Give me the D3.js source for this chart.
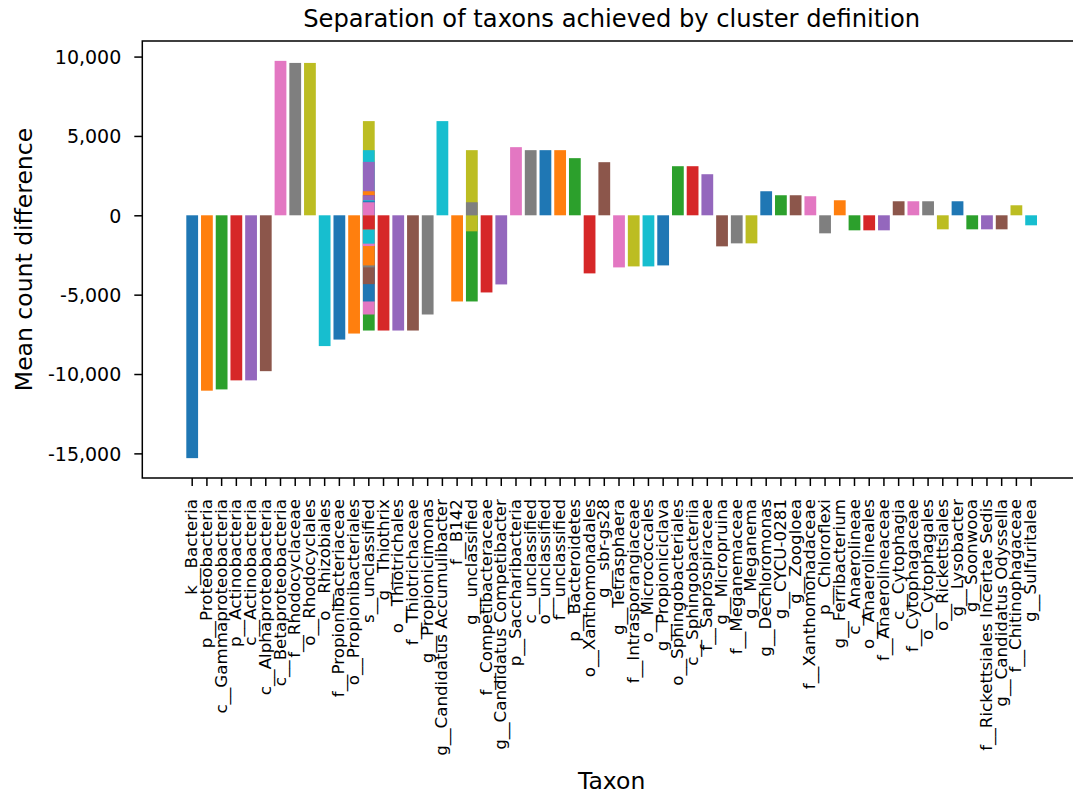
<!DOCTYPE html>
<html>
<head>
<meta charset="utf-8">
<script src="https://cdn.jsdelivr.net/npm/d3@7"></script>
<style>
	body { margin: 0; background: #fff; }
	text { font-family: "DejaVu Sans", sans-serif; fill: #000; }
</style>
</head>
<body>
<div id="chart"></div>
<script>

// Bars in the order they were drawn (later bars paint over earlier ones)
let taxa = [
	"k__Bacteria", "p__Proteobacteria", "c__Gammaproteobacteria", "p__Actinobacteria",
	"c__Actinobacteria", "c__Alphaproteobacteria", "c__Betaproteobacteria", "f__Rhodocyclaceae",
	"o__Rhodocyclales", "o__Rhizobiales", "f__Propionibacteriaceae", "o__Propionibacteriales",
	"s__unclassified", "g__Thiothrix", "o__Thiotrichales", "f__Thiotrichaceae",
	"s__unclassified", "g__Propionicimonas", "s__unclassified", "g__Candidatus Accumulibacter",
	"s__unclassified", "f__B142", "g__unclassified", "f__Competibacteraceae",
	"g__Candidatus Competibacter", "s__unclassified", "p__Saccharibacteria", "c__unclassified",
	"g__unclassified", "s__unclassified", "o__unclassified", "f__unclassified",
	"p__Bacteroidetes", "o__Xanthomonadales", "s__unclassified", "g__sbr-gs28",
	"g__Tetrasphaera", "s__unclassified", "f__Intrasporangiaceae", "o__Micrococcales",
	"g__Propioniciclava", "s__unclassified", "o__Sphingobacteriales", "c__Sphingobacteriia",
	"f__Saprospiraceae", "g__Micropruina", "s__unclassified", "f__Meganemaceae",
	"g__Meganema", "s__unclassified", "g__Dechloromonas", "s__unclassified",
	"g__CYCU-0281", "s__unclassified", "s__unclassified", "g__Zoogloea",
	"f__Xanthomonadaceae", "p__Chloroflexi", "g__unclassified", "s__unclassified",
	"s__unclassified", "g__Ferribacterium", "c__Anaerolineae", "o__Anaerolineales",
	"f__Anaerolineaceae", "c__Cytophagia", "f__Cytophagaceae", "o__Cytophagales",
	"o__Rickettsiales", "s__unclassified", "g__Lysobacter", "s__unclassified",
	"g__Soonwooa", "s__unclassified", "f__Rickettsiales Incertae Sedis", "g__Candidatus Odyssella",
	"s__unclassified", "g__unclassified", "f__Chitinophagaceae", "g__Sulfuritalea"
];

let diffs = [
	-15300, -11050, -10970, -10400,
	-10400, -9820, 9730, 9600,
	9600, -8240, -7830, -7450,
	-7260, -7260, -7260, -7260,
	-6250, -6250, 5934, 5934,
	-5429, -5429, -5429, -4861,
	-4356, -4337, 4293, 4104,
	4104, 4104, 4104, 4104,
	3600, -3660, 3365, 3346,
	-3283, -3283, -3220, -3220,
	-3157, -3157, 3093, 3093,
	2588, -1957, -1938, -1768,
	-1768, -1787, 1515, 1515,
	1263, 1263, 1263, 1263,
	1200, -1136, -1010, 947,
	884, 947, -947, -947,
	-947, 884, 884, 884,
	-884, -884, 884, -884,
	-884, -884, -884, -884,
	821, 821, 631, -631
];

let yTicks = [-15000, -10000, -5000, 0, 5000, 10000];

// Unique categories keep their first-seen order
let categories = Array.from(new Set(taxa));

let width = 1073;
let height = 794;
let plot = { left: 142.3, right: 1081, top: 41, bottom: 478 };

let svg = d3.select("#chart").append("svg")
	.attr("width", width)
	.attr("height", height);

svg.append("rect")
	.attr("width", width)
	.attr("height", height)
	.attr("fill", "#fff");

// x: one band per taxon, 0.8 wide, with matplotlib-like outer margins
let x = d3.scaleBand()
	.domain(categories)
	.range([plot.left, plot.right])
	.paddingInner(0.2)
	.paddingOuter(0.2 / 2 + 0.05 * (categories.length - 0.2));

// y: data extent padded by 5% on both sides
let lo = d3.min(diffs), hi = d3.max(diffs);
let pad = (hi - lo) * 0.05;
let y = d3.scaleLinear()
	.domain([lo - pad, hi + pad])
	.range([plot.bottom, plot.top]);

// Bars, colour cycling through tab10 in draw order
svg.append("g").selectAll("rect")
	.data(taxa.map((t, i) => ({ taxon: t, value: diffs[i], i: i })))
	.enter().append("rect")
	.attr("x", d => x(d.taxon))
	.attr("width", x.bandwidth())
	.attr("y", d => y(Math.max(0, d.value)))
	.attr("height", d => Math.abs(y(d.value) - y(0)))
	.attr("fill", d => d3.schemeCategory10[d.i % 10]);

// Number format with a plain hyphen for negatives
let fmt = d3.formatLocale({ decimal: ".", thousands: ",", grouping: [3], currency: ["", ""], minus: "-" }).format(",");

// y axis
let yAxis = svg.append("g")
	.attr("transform", "translate(" + plot.left + ",0)")
	.call(d3.axisLeft(y).tickValues(yTicks).tickFormat(fmt).tickSize(8).tickPadding(13));
yAxis.select(".domain").remove();
yAxis.selectAll("line").attr("stroke", "#000").attr("stroke-width", 1.5);
yAxis.selectAll("text")
	.attr("font-size", "19px")
	.attr("font-family", "DejaVu Sans")
	.attr("fill", "#000")
	.attr("dy", "0.36em");

// x axis
let xAxis = svg.append("g")
	.attr("transform", "translate(0," + plot.bottom + ")")
	.call(d3.axisBottom(x).tickSize(8).tickSizeOuter(0));
xAxis.select(".domain").remove();
xAxis.selectAll("line").attr("stroke", "#000").attr("stroke-width", 1.5);
xAxis.selectAll("text")
	.attr("font-size", "16.7px")
	.attr("font-family", "DejaVu Sans")
	.attr("fill", "#000")
	.attr("text-anchor", "end")
	.attr("transform", "translate(0,21) rotate(-90)")
	.attr("x", 0)
	.attr("y", 0)
	.attr("dy", "0.3em");

// Spines (right one falls outside the picture)
let spine = svg.append("g")
	.attr("stroke", "#000")
	.attr("stroke-width", 1.5)
	.attr("fill", "none");
spine.append("path")
	.attr("d", "M" + plot.right + "," + plot.top + "H" + plot.left + "V" + plot.bottom + "H" + plot.right);

// Title and axis labels
svg.append("text")
	.attr("x", (plot.left + plot.right) / 2)
	.attr("y", 27)
	.attr("text-anchor", "middle")
	.attr("font-size", "24.2px")
	.text("Separation of taxons achieved by cluster definition");

svg.append("text")
	.attr("x", (plot.left + plot.right) / 2)
	.attr("y", 789)
	.attr("text-anchor", "middle")
	.attr("font-size", "23.5px")
	.text("Taxon");

svg.append("text")
	.attr("transform", "translate(32," + (plot.top + plot.bottom) / 2 + ") rotate(-90)")
	.attr("text-anchor", "middle")
	.attr("font-size", "23.5px")
	.text("Mean count difference");

</script>
</body>
</html>
